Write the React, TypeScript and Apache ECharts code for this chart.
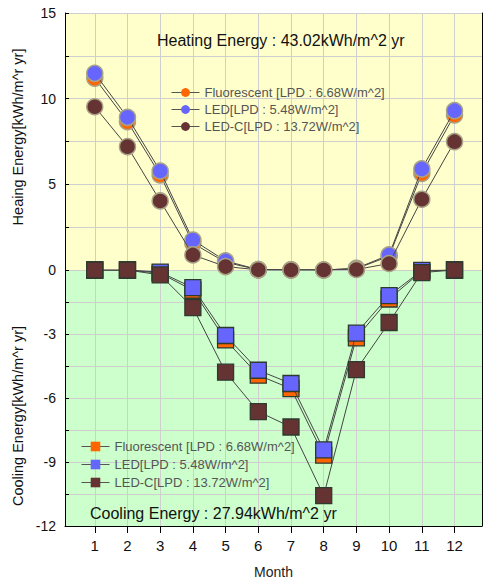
import React, { useEffect, useRef } from 'react';
import * as echarts from 'echarts';

const months = [1, 2, 3, 4, 5, 6, 7, 8, 9, 10, 11, 12];

const seriesNames = ['Fluorescent [LPD : 6.68W/m^2]', 'LED[LPD : 5.48W/m^2]', 'LED-C[LPD : 13.72W/m^2]'];
const seriesColors = ['#FF6600', '#6666FF', '#663333'];

const heatFluor = [11.2, 8.66, 5.55, 1.56, 0.45, 0.02, 0.01, 0.0, 0.08, 0.8, 5.64, 9.05];
const heatLED = [11.48, 8.91, 5.78, 1.75, 0.53, 0.02, 0.01, 0.0, 0.1, 0.88, 5.9, 9.3];
const heatLEDC = [9.53, 7.2, 4.03, 0.88, 0.2, 0.01, 0.0, 0.0, 0.03, 0.38, 4.13, 7.49];

const coolFluor = [0, 0, -0.15, -0.95, -3.28, -4.93, -5.56, -8.68, -3.18, -1.36, -0.05, 0];
const coolLED = [0, 0, -0.1, -0.83, -3.07, -4.7, -5.32, -8.43, -2.96, -1.2, -0.02, 0];
const coolLEDC = [0, 0, -0.23, -1.76, -4.79, -6.64, -7.36, -10.58, -4.67, -2.46, -0.12, 0];

const heatTitle = 'Heating Energy : 43.02kWh/m^2 yr';
const coolTitle = 'Cooling Energy : 27.94kWh/m^2 yr';
const heatAxisName = 'Heaing Energy[kWh/m^r yr]';
const coolAxisName = 'Cooling Energy[kWh/m^r yr]';

const FONT = 'Liberation Sans, Arial, sans-serif';

export default function App() {
  const ref = useRef<HTMLDivElement>(null);
  useEffect(() => {
    const chart = echarts.init(ref.current!, null, { renderer: 'svg' });
    const heat = [heatFluor, heatLED, heatLEDC];
    const cool = [coolFluor, coolLED, coolLEDC];
    const coolPrefix = 'c_';
    const gridColor = '#cfcfcf';

    const xAxisBase = {
      type: 'value',
      min: 0.09,
      max: 12.84,
      splitLine: { show: true, lineStyle: { color: gridColor, width: 1 } },
    };

    const series: any[] = [];
    heat.forEach((arr, i) => {
      series.push({
        name: seriesNames[i],
        type: 'line',
        xAxisIndex: 0,
        yAxisIndex: 0,
        data: months.map((m, j) => [m, arr[j]]),
        symbol: 'circle',
        symbolSize: 16,
        lineStyle: { color: '#444', width: 1 },
        itemStyle: { color: seriesColors[i], borderColor: '#a8a286', borderWidth: 1.5 },
        z: 3 + i,
      });
    });
    cool.forEach((arr, i) => {
      series.push({
        name: coolPrefix + seriesNames[i],
        type: 'line',
        xAxisIndex: 1,
        yAxisIndex: 1,
        data: months.map((m, j) => [m, arr[j]]),
        symbol: 'rect',
        symbolSize: 16,
        lineStyle: { color: '#444', width: 1 },
        itemStyle: { color: seriesColors[i], borderColor: '#2e3a2e', borderWidth: 1.3 },
        z: 3 + i,
      });
    });

    const legendCommon = {
      orient: 'vertical',
      itemWidth: 28,
      textStyle: { fontSize: 13, color: '#555', fontFamily: FONT },
      itemStyle: { borderWidth: 0 },
      lineStyle: { color: '#555', width: 1 },
    };

    const option: any = {
      animation: false,
      textStyle: { fontFamily: FONT },
      grid: [
        { left: 65, top: 13, width: 417, height: 257, show: true, backgroundColor: '#FFFFCC', borderWidth: 0 },
        { left: 65, top: 270, width: 417, height: 257, show: true, backgroundColor: '#CCFFCC', borderWidth: 0 },
      ],
      xAxis: [
        {
          ...xAxisBase,
          gridIndex: 0,
          axisLine: { show: false, onZero: false },
          axisTick: { show: false, customValues: months },
          axisLabel: { show: false, customValues: months },
        },
        {
          ...xAxisBase,
          gridIndex: 1,
          axisLine: { show: true, onZero: false, lineStyle: { color: '#000', width: 1 } },
          axisTick: { show: true, length: 7, customValues: months, lineStyle: { color: '#000' } },
          axisLabel: { show: true, customValues: months, fontSize: 15, color: '#111', margin: 12 },
          name: 'Month',
          nameLocation: 'middle',
          nameGap: 39,
          nameTextStyle: { fontSize: 14, color: '#222' },
        },
      ],
      yAxis: [
        {
          type: 'value',
          gridIndex: 0,
          min: 0,
          max: 15,
          interval: 2.5,
          axisLine: { show: true, onZero: false, lineStyle: { color: '#000', width: 1 } },
          axisTick: { show: true, inside: true, length: 4, lineStyle: { color: '#000' } },
          axisLabel: {
            fontSize: 14,
            color: '#111',
            margin: 9,
            formatter: (v: number) => (v % 5 === 0 ? String(v) : ''),
          },
          splitLine: { show: true, lineStyle: { color: gridColor, width: 1 } },
        },
        {
          type: 'value',
          gridIndex: 1,
          min: -12,
          max: 0,
          interval: 1.5,
          axisLine: { show: true, onZero: false, lineStyle: { color: '#000', width: 1 } },
          axisTick: { show: true, inside: true, length: 4, lineStyle: { color: '#000' } },
          axisLabel: {
            fontSize: 14,
            color: '#111',
            margin: 9,
            formatter: (v: number) => (Math.abs(v % 3) < 1e-9 && v !== 0 ? String(v) : ''),
          },
          splitLine: { show: true, lineStyle: { color: gridColor, width: 1 } },
        },
        {
          type: 'value',
          gridIndex: 0,
          position: 'right',
          min: 0,
          max: 15,
          axisLine: { show: true, onZero: false, lineStyle: { color: '#000', width: 1 } },
          axisTick: { show: false },
          axisLabel: { show: false },
          splitLine: { show: false },
        },
        {
          type: 'value',
          gridIndex: 1,
          position: 'right',
          min: -12,
          max: 0,
          axisLine: { show: true, onZero: false, lineStyle: { color: '#000', width: 1 } },
          axisTick: { show: false },
          axisLabel: { show: false },
          splitLine: { show: false },
        },
      ],
      legend: [
        {
          ...legendCommon,
          data: seriesNames,
          left: 166,
          top: 81,
          itemHeight: 11,
          itemGap: 4,
        },
        {
          ...legendCommon,
          data: seriesNames.map((n) => coolPrefix + n),
          formatter: (name: string) => name.replace(/^c_/, ''),
          left: 76,
          top: 435,
          itemHeight: 12,
          itemGap: 5,
        },
      ],
      graphic: [
        {
          type: 'text',
          x: 157,
          y: 40,
          style: { text: heatTitle, fontSize: 16, fill: '#111', fontFamily: FONT, verticalAlign: 'middle' },
          z: 10,
        },
        {
          type: 'text',
          x: 90,
          y: 513,
          style: { text: coolTitle, fontSize: 16, fill: '#111', fontFamily: FONT, verticalAlign: 'middle' },
          z: 10,
        },
        {
          type: 'text',
          x: 18,
          y: 137,
          rotation: Math.PI / 2,
          style: { text: heatAxisName, fontSize: 14.5, fill: '#111', fontFamily: FONT, align: 'center', verticalAlign: 'middle' },
        },
        {
          type: 'text',
          x: 18,
          y: 416,
          rotation: Math.PI / 2,
          style: { text: coolAxisName, fontSize: 14.5, fill: '#111', fontFamily: FONT, align: 'center', verticalAlign: 'middle' },
        },
      ],
      series,
    };
    chart.setOption(option);
    return () => chart.dispose();
  }, []);
  return <div ref={ref} style={{ position: 'absolute', left: 0, top: 0, width: 486, height: 580 }} />;
}
